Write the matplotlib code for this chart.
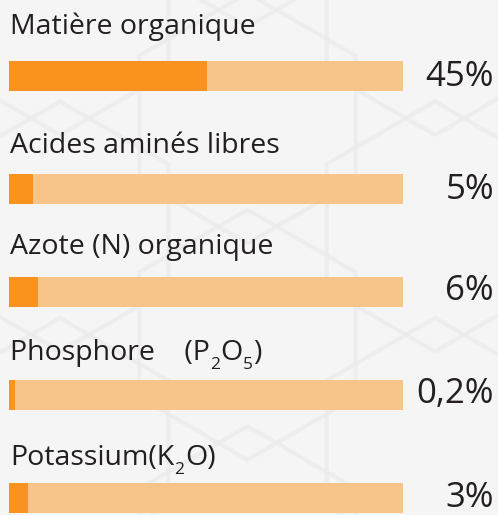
import matplotlib
matplotlib.use("Agg")
import matplotlib.pyplot as plt
from matplotlib.patches import RegularPolygon
import numpy as np
import re

# ---- data ----
categories = ["Matière organique", "Acides aminés libres", "Azote (N) organique",
              "Phosphore    (P_2O_5)", "Potassium(K_2O)"]
value_labels = ["45%", "5%", "6%", "0,2%", "3%"]
fill_pct = [50.3, 6.1, 7.4, 1.5, 4.8]    # filled share of each track, as drawn
track_pct = [100, 100, 100, 100, 100]

# ---- style ----
plt.rcParams['font.family'] = ['Open Sans', 'DejaVu Sans']

W, H = 498, 515
fig = plt.figure(figsize=(W / 100, H / 100), dpi=100)
fig.patch.set_facecolor('#f5f5f5')

# faint hexagon background
bg = fig.add_axes([0, 0, 1, 1])
bg.set_xlim(0, W)
bg.set_ylim(H, 0)
bg.axis('off')
R = 125
for i in range(-1, 4):
    for j in range(-1, 4):
        cx = i * R * 1.5
        cy = j * R * np.sqrt(3) + (R * np.sqrt(3) / 2 if i % 2 else 0) + 10
        bg.add_patch(RegularPolygon((cx + 60, cy), 6, radius=R, orientation=0,
                                    fill=False, edgecolor='#ebebeb', lw=3, alpha=0.7))

ax = fig.add_axes([0, 0, 1, 1])
ax.set_facecolor('none')
scale = 394 / 100
ax.set_xlim(-9 / scale, (W - 9) / scale)
ax.set_ylim(H, 0)
ax.axis('off')

row_y = [76, 189, 292, 395, 498]
label_base = [34, 153, 254, 360, 465]
value_base = [86, 199, 300, 403, 507]
bar_h = 30
txt_color = '#231f20'
label_fs = 20.5
sub_fs = 12.5
sub_drop = 9  # pixels

ax.barh(row_y, track_pct, height=bar_h, color='#f7c48a', zorder=2)
ax.barh(row_y, fill_pct, height=bar_h, color='#f7931e', zorder=3)

renderer = fig.canvas.get_renderer()
for yb, cat in zip(label_base, categories):
    pieces = re.split(r'(_\d)', cat)
    x = 0.25
    for p in pieces:
        if not p:
            continue
        if p.startswith('_'):
            t = ax.text(x, yb + sub_drop, p[1:], fontsize=sub_fs, va='baseline',
                        ha='left', color=txt_color)
        else:
            t = ax.text(x, yb, p, fontsize=label_fs, va='baseline', ha='left',
                        color=txt_color)
        w = t.get_window_extent(renderer).width
        x += (w + 0.3) / scale

for yb, lab in zip(value_base, value_labels):
    ax.text((494 - 9) / scale, yb, lab, fontsize=25, va='baseline', ha='right',
            color=txt_color)

fig.savefig('out.png', dpi=100, facecolor=fig.get_facecolor())
